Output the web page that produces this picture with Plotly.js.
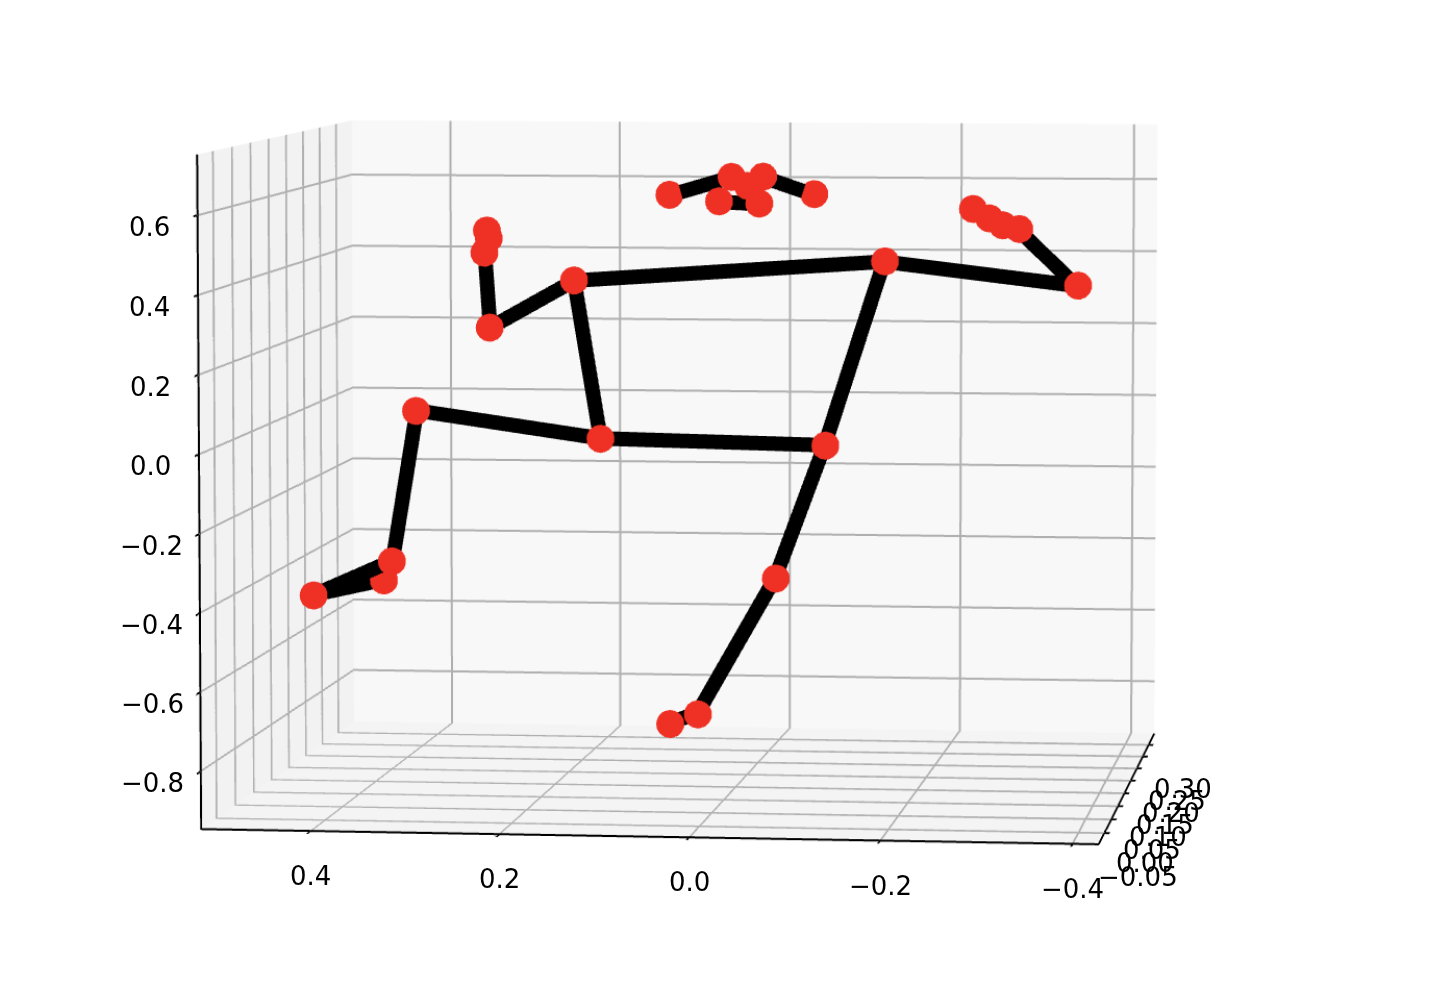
<!DOCTYPE html>
<html><head><meta charset="utf-8"><script src="https://cdn.plot.ly/plotly-3.0.1.min.js"></script>
<style>html,body{margin:0;padding:0;background:#fff;overflow:hidden;width:1440px;height:1008px}
#plot{position:absolute;left:-2298px;top:-2540px;width:6000px;height:6000px}</style></head><body><div id="plot"></div>
<script>
// landmark coordinates (depth estimated)
const landmarkX=[-0.055,-0.038,-0.071,0.045,-0.109,-0.025,-0.067,0.147,-0.184,0.252,-0.398,0.243,-0.337,0.234,-0.32,0.236,-0.306,-0.289,0.158,-0.091,0.348,-0.015,0.399,0.091,0.416,0.496,0.117];
const landmarkY=[-0.068,-0.068,-0.068,-0.002,-0.002,-0.068,-0.068,-0.002,-0.002,0.042,-0.068,-0.002,-0.068,-0.015,-0.068,-0.015,-0.068,-0.068,0.13,0.13,0.086,0.218,0.152,0.284,0.174,0.174,0.262];
const landmarkZ=[0.675,0.697,0.698,0.635,0.639,0.636,0.631,0.416,0.47,0.279,0.433,0.485,0.572,0.525,0.581,0.545,0.598,0.621,-0.043,-0.055,0.044,-0.454,-0.386,-0.867,-0.449,-0.492,-0.881];
const connections=[[3,1],[1,0],[0,2],[2,4],[5,6],[7,8],[7,9],[9,11],[11,13],[13,15],[8,10],[10,12],[12,14],[14,16],[16,17],[7,18],[8,19],[18,19],[18,20],[20,22],[22,24],[24,25],[25,22],[19,21],[21,23],[23,26]];
const xTicks=[0.4,0.2,0,-0.2,-0.4], xTickText=['0.4','0.2','0.0','−0.2','−0.4'];
const yTicks=[-0.05,0,0.05,0.1,0.15,0.2,0.25,0.3], yTickText=['−0.05','0.00','0.05','0.10','0.15','0.20','0.25','0.30'];
const zTicks=[-0.8,-0.6,-0.4,-0.2,0,0.2,0.4,0.6], zTickText=['−0.8','−0.6','−0.4','−0.2','0.0','0.2','0.4','0.6'];
const xRange=[0.517,-0.427], yRange=[-0.09,0.35], zRange=[-0.947,0.752];
const aspect={x:1,y:1.0,z:0.751}, eye={x:1.035,y:-8.37,z:0.716};
const lx=[],ly=[],lz=[];
connections.forEach(([a,b])=>{lx.push(landmarkX[a],landmarkX[b],null);ly.push(landmarkY[a],landmarkY[b],null);lz.push(landmarkZ[a],landmarkZ[b],null);});
// markers are nudged towards the camera so they sit in front of the thick lines, as in the reference
const eyeLen=Math.hypot(eye.x,eye.y,eye.z), nudge=0.03;
const sx=(xRange[1]-xRange[0])/aspect.x, sy=(yRange[1]-yRange[0])/aspect.y, sz=(zRange[1]-zRange[0])/aspect.z;
const mx=landmarkX.map(v=>v+nudge*eye.x/eyeLen*sx), my=landmarkY.map(v=>v+nudge*eye.y/eyeLen*sy), mz=landmarkZ.map(v=>v+nudge*eye.z/eyeLen*sz);
const axisBase={showbackground:true,gridcolor:'#b0b0b0',gridwidth:2,showline:true,linecolor:'#000',linewidth:2,ticks:'outside',tickcolor:'#000',tickwidth:2,showticklabels:false,tickmode:'array',zeroline:false,showspikes:false,title:{text:''}};
const labelFont={family:'DejaVu Sans',size:26,color:'#000'};
const label=(x,y,z,text,xshift,yshift)=>({x,y,z,text,xshift,yshift,showarrow:false,xanchor:'center',yanchor:'middle',font:labelFont});
const annotations=[
 ...xTicks.map((v,i)=>label(v,yRange[0],zRange[0],xTickText[i],0,-45)),
 ...yTicks.map((v,i)=>label(xRange[1],v,zRange[0],yTickText[i],34,-44)),
 ...zTicks.map((v,i)=>label(xRange[0],yRange[0],v,zTickText[i],-48,-12))];
Plotly.newPlot('plot',[
 {type:'scatter3d',mode:'lines',x:lx,y:ly,z:lz,connectgaps:false,line:{color:'#000',width:14},hoverinfo:'skip'},
 {type:'scatter3d',mode:'markers',x:mx,y:my,z:mz,marker:{color:'#ee3124',size:7.8,opacity:1,line:{width:0}},hoverinfo:'skip'}],{
 width:6000,height:6000,margin:{l:0,r:0,t:0,b:0},paper_bgcolor:'#fff',showlegend:false,
 scene:{domain:{x:[0,1],y:[0,1]},aspectmode:'manual',aspectratio:aspect,annotations,
  camera:{center:{x:0,y:0,z:0},up:{x:0,y:0,z:1},eye:eye},
  xaxis:{...axisBase,backgroundcolor:'#f2f2f2',range:xRange,tickvals:xTicks,ticktext:xTickText,ticklen:2},
  yaxis:{...axisBase,backgroundcolor:'#f8f8f8',range:yRange,tickvals:yTicks,ticktext:yTickText,ticklen:8},
  zaxis:{...axisBase,backgroundcolor:'#f4f4f4',range:zRange,tickvals:zTicks,ticktext:zTickText,ticklen:2}}
},{displayModeBar:false});
</script></body></html>
